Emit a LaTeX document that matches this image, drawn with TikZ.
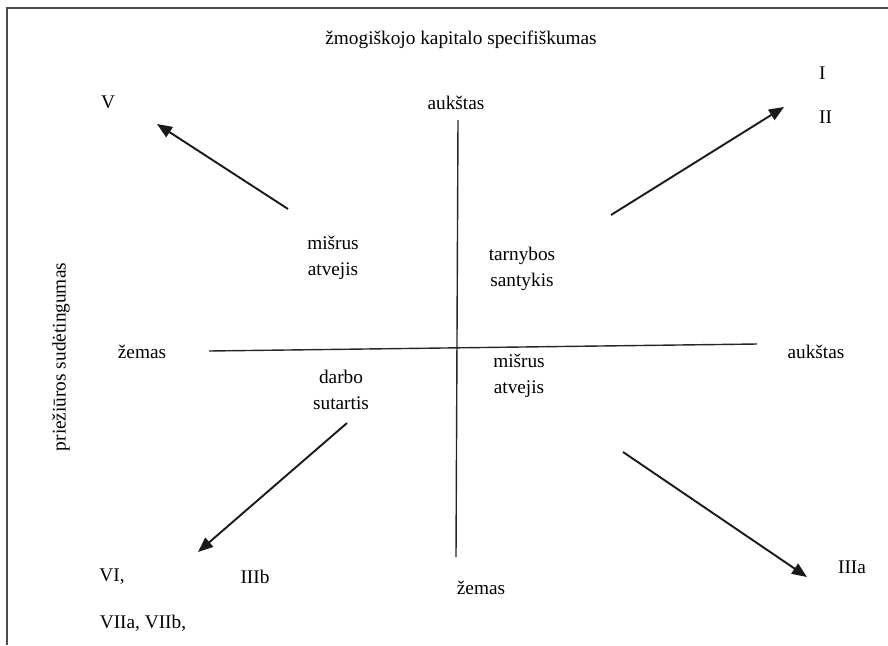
\documentclass[tikz,border=0pt]{standalone}
\usepackage{fontspec}
\setmainfont{Liberation Serif}
\usetikzlibrary{arrows.meta}
\begin{document}
\begin{tikzpicture}[x=1pt,y=-1pt,
  lbl/.style={font=\fontsize{19.3}{26.5}\selectfont, inner sep=0pt, align=center},
  axisline/.style={line width=1.4pt, black!85},
  arr/.style={line width=1.9pt, black!90, -{Triangle[length=15pt,width=12pt]}},
  frameline/.style={line width=1.5pt, black!70}]
\useasboundingbox (0,0) rectangle (888,645);
\coordinate (fTL) at (7,8);
\coordinate (fTR) at (888,8);
\coordinate (fBL) at (7,645);
\draw[frameline] (fBL) -- (fTL) -- (fTR);

\node[lbl] (title) at (461,40) {žmogiškojo kapitalo specifiškumas};
\node[lbl,anchor=west] (one) at (819,73) {I};
\node[lbl,anchor=west] (two) at (819,117) {II};
\node[lbl] (five) at (108,102) {V};
\node[lbl] (hiTop) at (456,103) {aukštas};
\node[lbl] (lowLeft) at (142,352) {žemas};
\node[lbl] (hiRight) at (816,352) {aukštas};
\node[lbl] (lowBot) at (481,588) {žemas};
\node[lbl] (mix1) at (333,258) {mišrus\\atvejis};
\node[lbl] (tarn) at (522,269) {tarnybos\\santykis};
\node[lbl] (mix2) at (519,376) {mišrus\\atvejis};
\node[lbl] (darbo) at (341,390) {darbo\\sutartis};
\node[lbl] (six) at (112,577) {VI,};
\node[lbl] (threeb) at (255,577) {IIIb};
\node[lbl] (seven) at (143,623) {VIIa, VIIb,};
\node[lbl] (threea) at (852,567) {IIIa};
\node[lbl,rotate=90] (yaxis) at (61,357) {priežiūros sudėtingumas};

\coordinate (vTop) at (458,120);
\coordinate (vBot) at (456,557);
\coordinate (hL) at (209,351);
\coordinate (hR) at (757,344);
\draw[axisline] (vTop) -- (vBot);
\draw[axisline] (hL) -- (hR);

\coordinate (a1s) at (288,209);
\coordinate (a1e) at (157,124);
\coordinate (a2s) at (611,215);
\coordinate (a2e) at (784,107);
\coordinate (a3s) at (347,423);
\coordinate (a3e) at (198,552);
\coordinate (a4s) at (623,452);
\coordinate (a4e) at (807,577);
\draw[arr] (a1s) -- (a1e);
\draw[arr] (a2s) -- (a2e);
\draw[arr] (a3s) -- (a3e);
\draw[arr] (a4s) -- (a4e);
\end{tikzpicture}
\end{document}
